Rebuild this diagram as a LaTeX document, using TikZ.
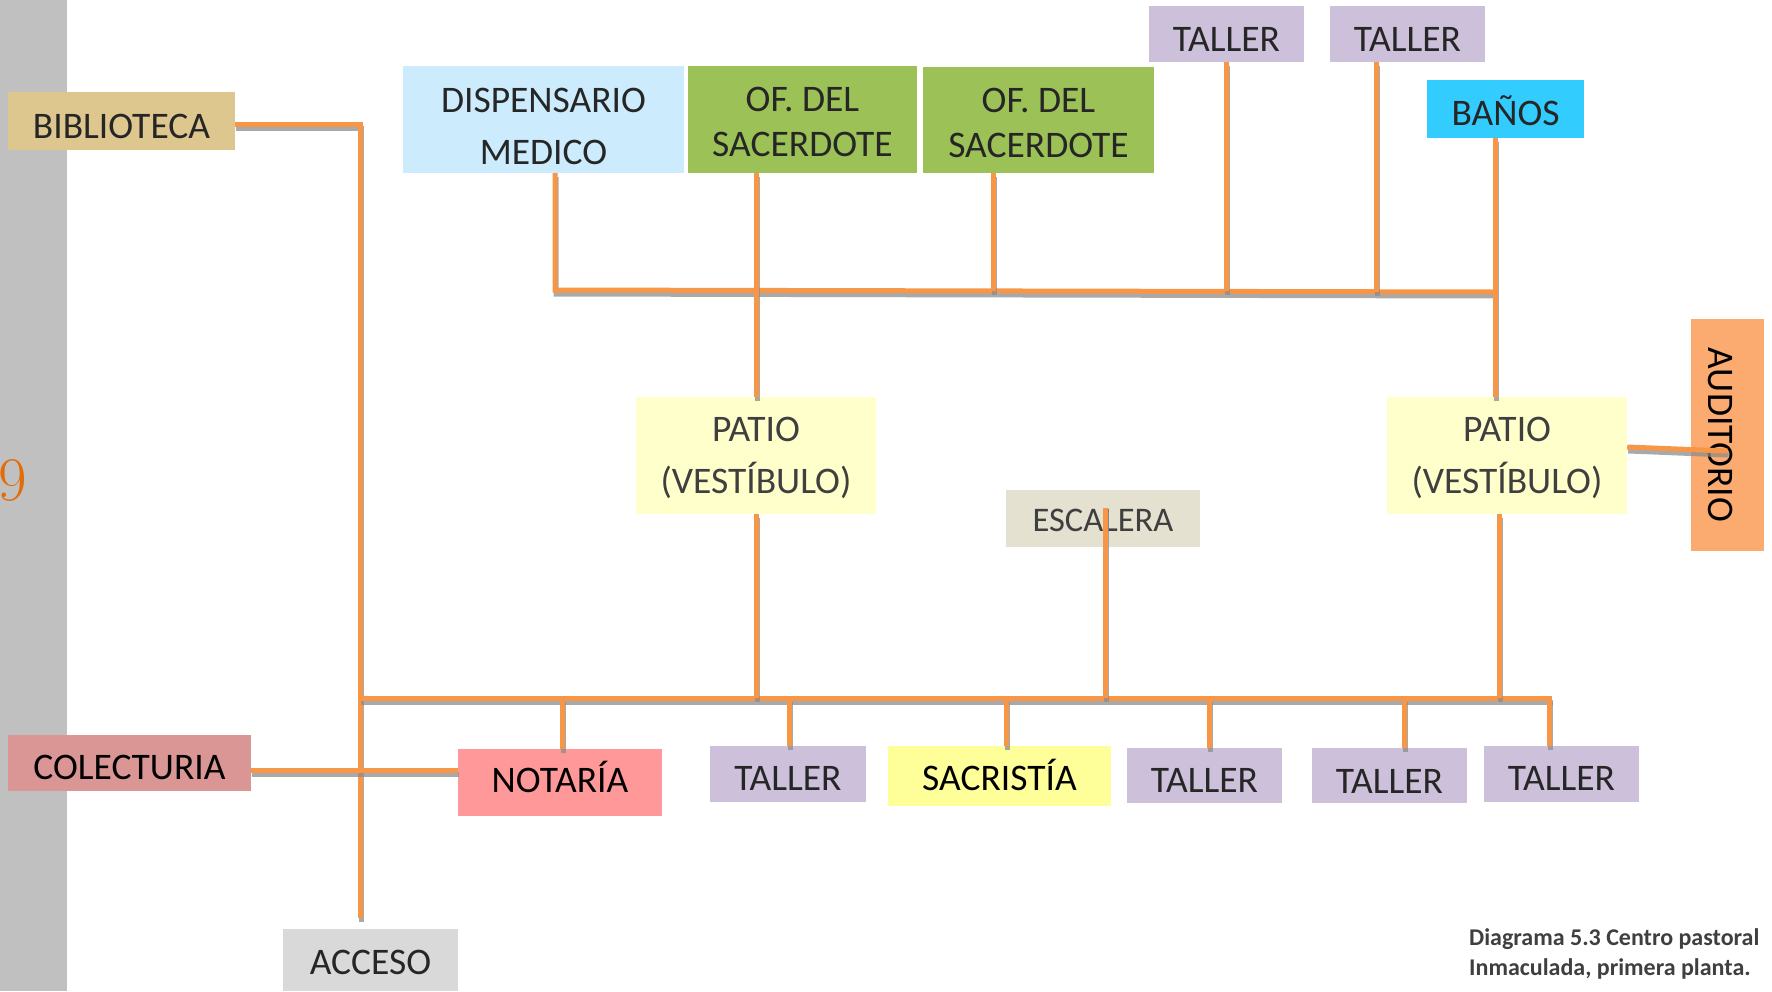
\documentclass[tikz,border=0pt]{standalone}
\usepackage{fontspec}
\setmainfont{Carlito}
\newfontfamily\lmr{Latin Modern Roman}
\definecolor{stripe}{HTML}{C0C0C0}
\definecolor{lineor}{HTML}{F79646}
\definecolor{shadowgray}{HTML}{8C8C8C}
\definecolor{txt}{HTML}{262626}
\definecolor{txtg}{HTML}{3F3F3F}
\definecolor{cbib}{HTML}{DDC78F}
\definecolor{cdisp}{HTML}{CCEBFC}
\definecolor{cof}{HTML}{9BC157}
\definecolor{ctall}{HTML}{CCC0DA}
\definecolor{cban}{HTML}{33CCFF}
\definecolor{cpat}{HTML}{FFFFCC}
\definecolor{caud}{HTML}{FBAA70}
\definecolor{cesc}{HTML}{E4E1D0}
\definecolor{ccol}{HTML}{DA9694}
\definecolor{cnot}{HTML}{FF9999}
\definecolor{csac}{HTML}{FFFF99}
\definecolor{cacc}{HTML}{D9D9D9}
\definecolor{cnine}{HTML}{E36C0A}
% first line with a strut of height #1 (pt), glyphs smashed
\newcommand\sline[2]{\rule{0pt}{#1pt}\smash{#2}}
\begin{document}
\begin{tikzpicture}[x=1pt,y=-1pt,
  box/.style={inner sep=0pt, text=txt, align=center, font=\fontsize{37.5}{45}\selectfont},
  conn/.style={draw=lineor, line width=5pt,
    preaction={draw=shadowgray, draw opacity=0.75, line width=5pt, transform canvas={xshift=1pt,yshift=-4pt}}}]
\useasboundingbox (0,0) rectangle (1772,991);
\fill[stripe] (0,0) rectangle (67,991);
\node[anchor=east, text=cnine, font=\lmr\fontsize{62}{62}\selectfont, inner sep=0pt] (nine) at (27,480) {9};

% top row
\node[box, fill=cbib, minimum width=227pt, minimum height=58pt] (biblio) at (121.5,121) {\sline{35.4}{BIBLIOTECA}};
\node[box, fill=cdisp, minimum width=281pt, minimum height=107pt, font=\fontsize{37.5}{52}\selectfont] (disp) at (543.5,119.5) {\sline{38.2}{DISPENSARIO}\\\smash{MEDICO}};
\node[box, fill=cof, minimum width=229pt, minimum height=107pt, font=\fontsize{37.5}{45}\selectfont] (of1) at (802.5,119.5) {\sline{29.8}{OF. DEL}\\\smash{SACERDOTE}};
\node[box, fill=cof, minimum width=231pt, minimum height=106pt, font=\fontsize{37.5}{45}\selectfont] (of2) at (1038.5,120) {\sline{29.8}{OF. DEL}\\\smash{SACERDOTE}};
\node[box, fill=ctall, minimum width=155pt, minimum height=56pt] (tt1) at (1226.5,34) {\sline{35.4}{TALLER}};
\node[box, fill=ctall, minimum width=155pt, minimum height=56pt] (tt2) at (1407.5,34) {\sline{35.4}{TALLER}};
\node[box, fill=cban, minimum width=157pt, minimum height=58pt] (banos) at (1505.5,109) {\sline{32}{BAÑOS}};

% middle
\node[box, fill=cpat, text=txtg, minimum width=240pt, minimum height=117pt, font=\fontsize{37.5}{52}\selectfont] (patio1) at (756,455.5) {\sline{24.2}{PATIO}\\\smash{(VESTÍBULO)}};
\node[box, fill=cpat, text=txtg, minimum width=240pt, minimum height=117pt, font=\fontsize{37.5}{52}\selectfont] (patio2) at (1507,455.5) {\sline{24.2}{PATIO}\\\smash{(VESTÍBULO)}};
\node[box, fill=caud, text=black, rotate=-90, minimum width=232pt, minimum height=73pt] (aud) at (1727.5,435) {\sline{38.8}{AUDITORIO}};
\node[box, fill=cesc, text=txtg, minimum width=194pt, minimum height=57pt, font=\fontsize{34.5}{40}\selectfont] (esc) at (1103,518.5) {\sline{26.8}{ESCALERA}};

% bottom row
\node[box, fill=ccol, text=black, minimum width=243pt, minimum height=56pt] (colect) at (129.5,763) {\sline{33.2}{COLECTURIA}};
\node[box, fill=cnot, text=black, minimum width=204pt, minimum height=67pt] (notaria) at (560,782.5) {\sline{20.8}{NOTARÍA}};
\node[box, fill=ctall, minimum width=156pt, minimum height=56pt] (tb1) at (788,774) {\sline{33.2}{TALLER}};
\node[box, fill=csac, text=black, minimum width=223pt, minimum height=60pt] (sacr) at (999.5,776) {\sline{29.8}{SACRISTÍA}};
\node[box, fill=ctall, minimum width=155pt, minimum height=55pt] (tb2) at (1204.5,775.5) {\sline{34.3}{TALLER}};
\node[box, fill=ctall, minimum width=155pt, minimum height=55pt] (tb3) at (1389.5,775.5) {\sline{36.6}{TALLER}};
\node[box, fill=ctall, minimum width=155pt, minimum height=56pt] (tb4) at (1561.5,774) {\sline{33.2}{TALLER}};
\node[box, fill=cacc, minimum width=175pt, minimum height=62pt] (acceso) at (370.5,960) {\sline{29.8}{ACCESO}};

\node[anchor=base west, inner sep=0pt, text=txtg, font=\bfseries\fontsize{24}{29}\selectfont] (caption1) at (1469,945) {Diagrama 5.3 Centro pastoral};
\node[anchor=base west, inner sep=0pt, text=txtg, font=\bfseries\fontsize{24}{29}\selectfont] (caption2) at (1469,975) {Inmaculada, primera planta.};

% coordinates
\coordinate (L1) at (360,124);
\coordinate (L2) at (360,918);
\coordinate (B1) at (360,698);
\coordinate (B2) at (1552,698);
\coordinate (C) at (0,770);
\coordinate (T1) at (555,290);
\coordinate (T2) at (1495,292);
\coordinate (xOF2) at (993,291);
\coordinate (xT1) at (1226,291);
\coordinate (xT2) at (1376,292);
\coordinate (escTop) at (1105,508);
\coordinate (escBot) at (1105,698);
\coordinate (xP2) at (1499,698);
\coordinate (d1) at (562,698);
\coordinate (d2) at (789,698);
\coordinate (d3) at (1006,698);
\coordinate (d4) at (1209,698);
\coordinate (d5) at (1404,698);
\coordinate (d6) at (1549,698);
\coordinate (A1) at (0,447);
\coordinate (A2) at (0,451);

% connectors
\draw[conn] (biblio.east |- L1) -- (L1) -- (L2);
\draw[conn] (B1) -- (B2);
\draw[conn] (colect.east |- C) -- (notaria.west |- C);
\draw[conn] (disp.south -| T1) -- (T1) -- (T2);
\draw[conn] (of1.south -| patio1) -- (patio1.north);
\draw[conn] (of2.south -| xOF2) -- (xOF2);
\draw[conn] (tt1.south -| xT1) -- (xT1);
\draw[conn] (tt2.south -| xT2) -- (xT2);
\draw[conn] (banos.south -| T2) -- (patio2.north -| T2);
\draw[conn] (patio1.south) -- (patio1.south |- B1);
\draw[conn] (escTop) -- (escBot);
\draw[conn] (patio2.south -| xP2) -- (xP2);
\draw[conn] (d1) -- (notaria.north -| d1);
\draw[conn] (d2) -- (tb1.north -| d2);
\draw[conn] (d3) -- (sacr.north -| d3);
\draw[conn] (d4) -- (tb2.north -| d4);
\draw[conn] (d5) -- (tb3.north -| d5);
\draw[conn] (d6) -- (tb4.north -| d6);
\draw[conn] (patio2.east |- A1) -- (aud.west |- A2);
\end{tikzpicture}
\end{document}
